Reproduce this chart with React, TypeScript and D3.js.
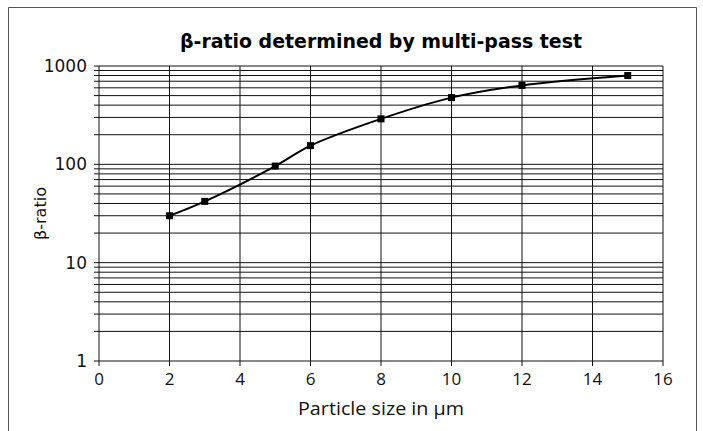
import * as d3 from 'd3';
import React from 'react';

const sizes = [2, 3, 5, 6, 8, 10, 12, 15];
const ratios = [30, 42, 96, 155, 290, 477, 635, 800];
const xTicks = [0, 2, 4, 6, 8, 10, 12, 14, 16];
const yTicks = [1, 10, 100, 1000];

const App = () => {
  const width = 703, height = 431;
  const margin = { top: 66, right: 40, bottom: 70, left: 99 };

  const x = d3.scaleLinear().domain([0, 16]).range([margin.left, 663]);
  const y = d3.scaleLog().domain([1, 1000]).range([361, margin.top]);

  // every 1..9 per decade
  const gridY: number[] = [];
  for (const dec of [1, 10, 100]) {
    for (let k = 1; k <= 9; k++) gridY.push(dec * k);
  }
  gridY.push(1000);

  const line = d3.line<number>()
    .x((d, i) => x(sizes[i]))
    .y(d => y(d))
    .curve(d3.curveCatmullRom.alpha(0.5));

  const x0 = x(0), x1 = x(16), yb = y(1), yt = y(1000);

  return (
    <div style={{ position: 'absolute', left: 0, top: 0 }}>
      <svg width={width} height={height} style={{ display: 'block', background: '#fff' }}>
        <path d={`M8.5,${height + 2}V7.5H696.5V${height + 2}`} fill="none" stroke="#555" />

        <text x={(x0 + x1) / 2} y={48} textAnchor="middle" fontFamily="'DejaVu Sans Condensed', 'DejaVu Sans'"
          fontWeight="bold" fontSize={19} textLength={402} lengthAdjust="spacingAndGlyphs">
          β-ratio determined by multi-pass test
        </text>

        {/* horizontal grid + ticks */}
        {gridY.map(v => (
          <line key={'h' + v} x1={x0 - 5} x2={x1} y1={y(v)} y2={y(v)} stroke="#111" strokeWidth={1} />
        ))}
        {/* vertical grid + ticks */}
        {xTicks.map(t => (
          <line key={'v' + t} x1={x(t)} x2={x(t)} y1={yt} y2={yb + 5} stroke="#111" strokeWidth={1} />
        ))}

        {yTicks.map(t => (
          <text key={'yt' + t} x={87} y={y(t)} dy="0.36em" textAnchor="end" fontFamily="'DejaVu Sans'" fontSize={17} fill="#111">
            {t}
          </text>
        ))}
        {xTicks.map(t => (
          <text key={'xt' + t} x={x(t)} y={385} textAnchor="middle" fontFamily="'Open Sans'" fontSize={17} fill="#111">
            {t}
          </text>
        ))}

        <text transform={`translate(46,${(yt + yb) / 2}) rotate(-90)`} textAnchor="middle" fontFamily="'DejaVu Sans'" fontSize={16} fill="#111">
          β-ratio
        </text>
        <text x={(x0 + x1) / 2} y={415} textAnchor="middle" fontFamily="'Open Sans'" fontSize={17.5} fill="#111"
          textLength={166} lengthAdjust="spacingAndGlyphs">
          Particle size in µm
        </text>

        <path d={line(ratios) || ''} fill="none" stroke="#000" strokeWidth={2} />
        {ratios.map((v, i) => (
          <rect key={'p' + i} x={x(sizes[i]) - 3.5} y={y(v) - 3.5} width={7} height={7} fill="#000" />
        ))}
      </svg>
    </div>
  );
};

export default App;
